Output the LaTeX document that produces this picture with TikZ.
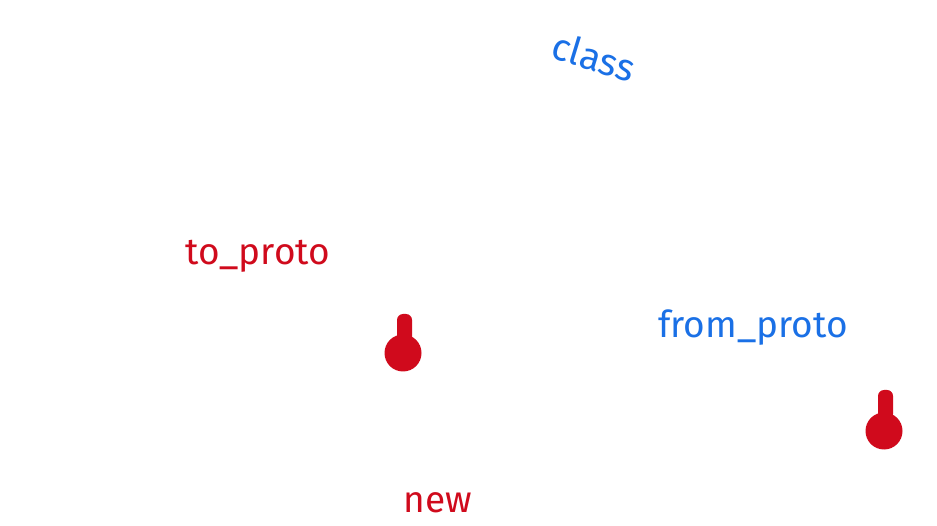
\documentclass[tikz,border=0pt]{standalone}
\usepackage{fontspec}
\setmainfont{Fira Sans}
\definecolor{inkblue}{RGB}{26,112,230}
\definecolor{inkred}{RGB}{208,10,28}
\tikzset{
  bluelabel/.style={text=inkblue, font=\fontsize{37}{40}\selectfont, inner sep=0pt, anchor=base},
  redlabel/.style={text=inkred, font=\fontsize{37}{40}\selectfont, inner sep=0pt, anchor=base},
  blob/.style={fill=inkred}
}
\begin{document}
\begin{tikzpicture}[x=1pt,y=-1pt]
\useasboundingbox[fill=white] (0,0) rectangle (937,526);
\node[bluelabel, rotate=-17, font=\fontsize{38}{40}\selectfont] (class) at (590,70) {class};
\node[redlabel] (toproto) at (258,265) {to\_proto};
\node[bluelabel] (fromproto) at (753,338) {from\_proto};
\node[redlabel] (new) at (438,512) {new};
% blobs
\fill[blob, rounded corners=6pt] (397,314) rectangle (412,345);
\node[blob, circle, minimum size=37pt, inner sep=0pt] (blobA) at (403,353) {};
\fill[blob, rounded corners=6pt] (878,390) rectangle (893,420);
\node[blob, circle, minimum size=37pt, inner sep=0pt] (blobB) at (884,431) {};
\end{tikzpicture}
\end{document}
